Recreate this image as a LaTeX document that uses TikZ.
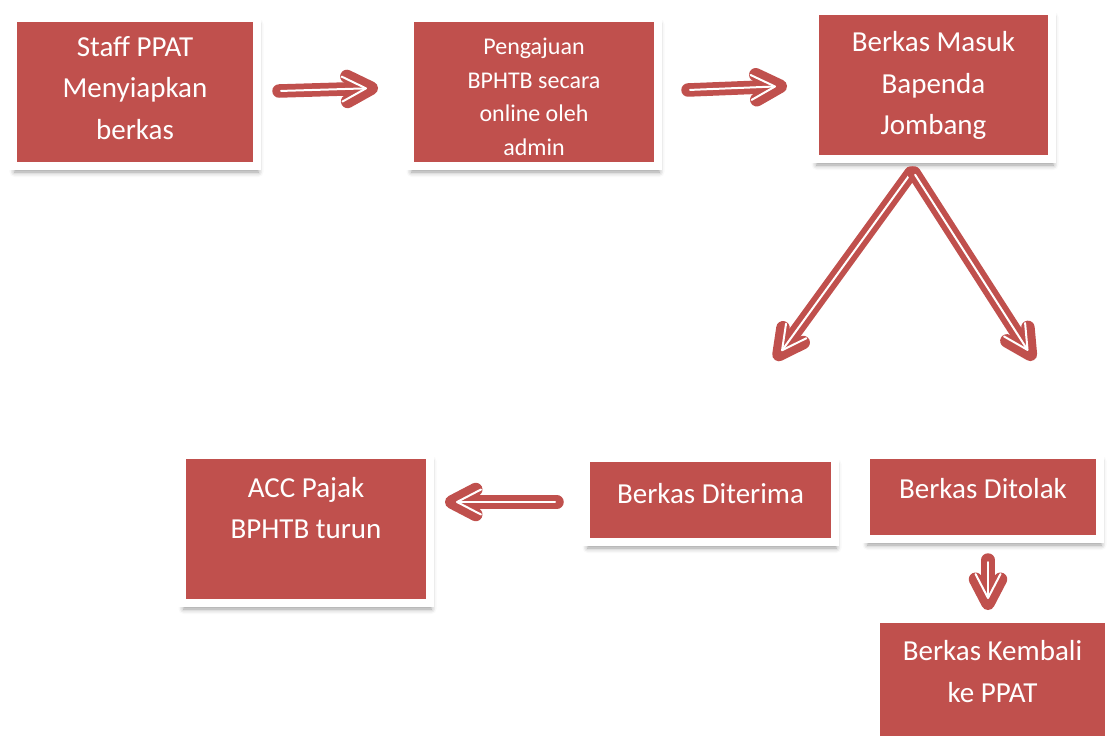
\documentclass[tikz,border=0pt]{standalone}
\usepackage{fontspec}
\setmainfont{Carlito}
\usetikzlibrary{arrows.meta,calc,shadows.blur}
\definecolor{boxred}{HTML}{C0504D}

\begin{document}
\begin{tikzpicture}[x=1pt,y=-1pt,
    box/.style={rectangle,fill=boxred,draw=white,line width=8pt,inner sep=0pt,
      blur shadow={shadow xshift=1.5pt,shadow yshift=-6pt,shadow blur radius=5pt,shadow opacity=40}},
    boxtext/.style={text=white,align=center,inner sep=0pt,font=\fontsize{29}{41.5}\selectfont},
    fatarrow/.style={draw=white,line width=2pt,line cap=round,shorten >=11pt,shorten <=2pt,
      -{Straight Barb[length=24pt,width=25pt,round]},
      preaction={draw=boxred,line width=13.5pt,line cap=round,shorten >=0pt,shorten <=0pt,
        -{Straight Barb[length=24pt,width=25pt,round]}}}]
  \useasboundingbox (0,0) rectangle (1113,742);
  % top row
  \node[box,minimum width=244pt,minimum height=148pt] (staff) at (135,92) {};
  \node[box,minimum width=248pt,minimum height=148pt] (pengajuan) at (534,92) {};
  \node[box,minimum width=237pt,minimum height=148pt] (masuk) at (933.5,85) {};
  \node[boxtext] (staff text) at ($(staff)+(0,-4)$) {Staff PPAT\\Menyiapkan\\berkas};
  \node[boxtext,font=\fontsize{24}{33.5}\selectfont] (pengajuan text) at ($(pengajuan)+(0,5)$) {Pengajuan\\BPHTB secara\\online oleh\\admin};
  \node[boxtext] (masuk text) at ($(masuk)+(0,0.5)$) {Berkas Masuk\\Bapenda\\Jombang};
  % bottom row
  \node[box,minimum width=248pt,minimum height=148pt] (acc) at (306,529) {};
  \node[box,minimum width=249pt,minimum height=84pt] (terima) at (710.5,500) {};
  \node[box,minimum width=234pt,minimum height=84pt] (tolak) at (983,497) {};
  \node[box,minimum width=233pt,minimum height=121pt] (kembali) at (992.5,679.5) {};
  \node[boxtext] (acc text) at ($(acc)+(0,-21)$) {ACC Pajak\\BPHTB turun};
  \node[boxtext] (terima text) at ($(terima)+(0,-6)$) {Berkas Diterima};
  \node[boxtext] (tolak text) at ($(tolak)+(0,-8)$) {Berkas Ditolak};
  \node[boxtext] (kembali text) at ($(kembali)+(0,-8)$) {Berkas Kembali\\ke PPAT};
  \coordinate (terima tip) at (775,360);
  \coordinate (tolak tip) at (1034,360);
  % arrows
  \draw[fatarrow] ($(staff.east)+(18,-1)$) -- ($(pengajuan.west)+(-28,-4)$);
  \draw[fatarrow] ($(pengajuan.east)+(26,-2)$) -- ($(masuk.west)+(-24,1)$);
  \draw[fatarrow] ($(masuk.south)+(-22.5,10)$) -- (terima tip);
  \draw[fatarrow] ($(masuk.south)+(-19.5,10)$) -- (tolak tip);
  \draw[fatarrow] ($(terima.west)+(-25,2)$) -- ($(acc.east)+(11,-27)$);
  \draw[fatarrow] ($(tolak.south)+(5,17)$) -- ($(kembali.north)+(-4.5,-5)$);
\end{tikzpicture}
\end{document}
